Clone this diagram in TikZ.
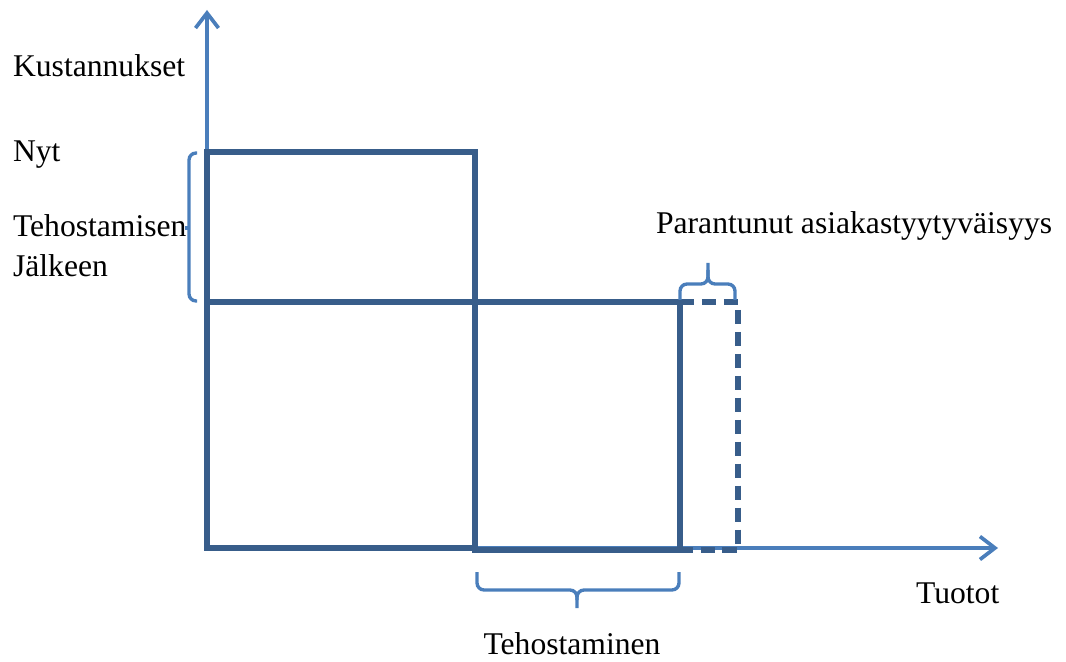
\documentclass[tikz,border=0pt]{standalone}
\usepackage{fontspec}
\setmainfont{Liberation Serif}
\usetikzlibrary{arrows.meta}
\definecolor{caxis}{HTML}{4A7EBB}
\definecolor{cbox}{HTML}{385D8A}
\tikzset{
  every picture/.style={line width=1.2pt},
  axis/.style={draw=caxis, line width=2.1pt, -{Straight Barb[length=3mm, width=4.6mm]}},
  area/.style={draw=cbox, line width=2.9pt},
  extra/.style={area, dash pattern=on 8pt off 4.5pt},
  brc/.style={draw=caxis, line width=1.9pt, rounded corners=4pt},
  lbl/.style={font=\fontsize{18}{22.8}\selectfont, inner sep=0pt, align=left},
}
\begin{document}
\begin{tikzpicture}[x=0.02cm, y=-0.02cm]
  \useasboundingbox (0,0) rectangle (1066,662);
  % axes
  \coordinate (o) at (207,548);
  \coordinate (ytop) at (207,10);
  \coordinate (xend) at (998,548);
  \draw[axis] (o) -- (ytop);
  \draw[axis] (o) -- (xend);
  % cost areas
  \draw[area] (207,152) rectangle (475,302);
  \draw[area] (207,302) rectangle (475,548);
  \draw[area] (475,302) rectangle (680,550);
  \draw[extra] (680,302) -- (738,302) -- (738,550) -- (680,550);
  % braces
  \draw[brc] (197,153) -- (189,153) -- (189,301) -- (197,301);
  \draw[brc, sharp corners] (189,228) -- (185,228);
  \draw[brc] (680,300) -- (680,284) -- (708,284) -- (708,263);
  \draw[brc] (708,270) |- (735,284) -- (735,300);
  \draw[brc] (477,572) -- (477,590) -- (577,590) -- (577,608);
  \draw[brc] (577,600) |- (679,590) -- (679,572);
  % labels
  \node[lbl, anchor=west] (kust) at (12,66) {Kustannukset};
  \node[lbl, anchor=west] (nyt) at (12,155) {Nyt};
  \node[lbl, anchor=west] (jalk) at (12,246) {Tehostamisen\\Jälkeen};
  \node[lbl, anchor=west] (asiak) at (655,226) {Parantunut asiakastyytyväisyys};
  \node[lbl, anchor=west] (tuot) at (915,593) {Tuotot};
  \node[lbl] (teho) at (572,644) {Tehostaminen};
\end{tikzpicture}
\end{document}
